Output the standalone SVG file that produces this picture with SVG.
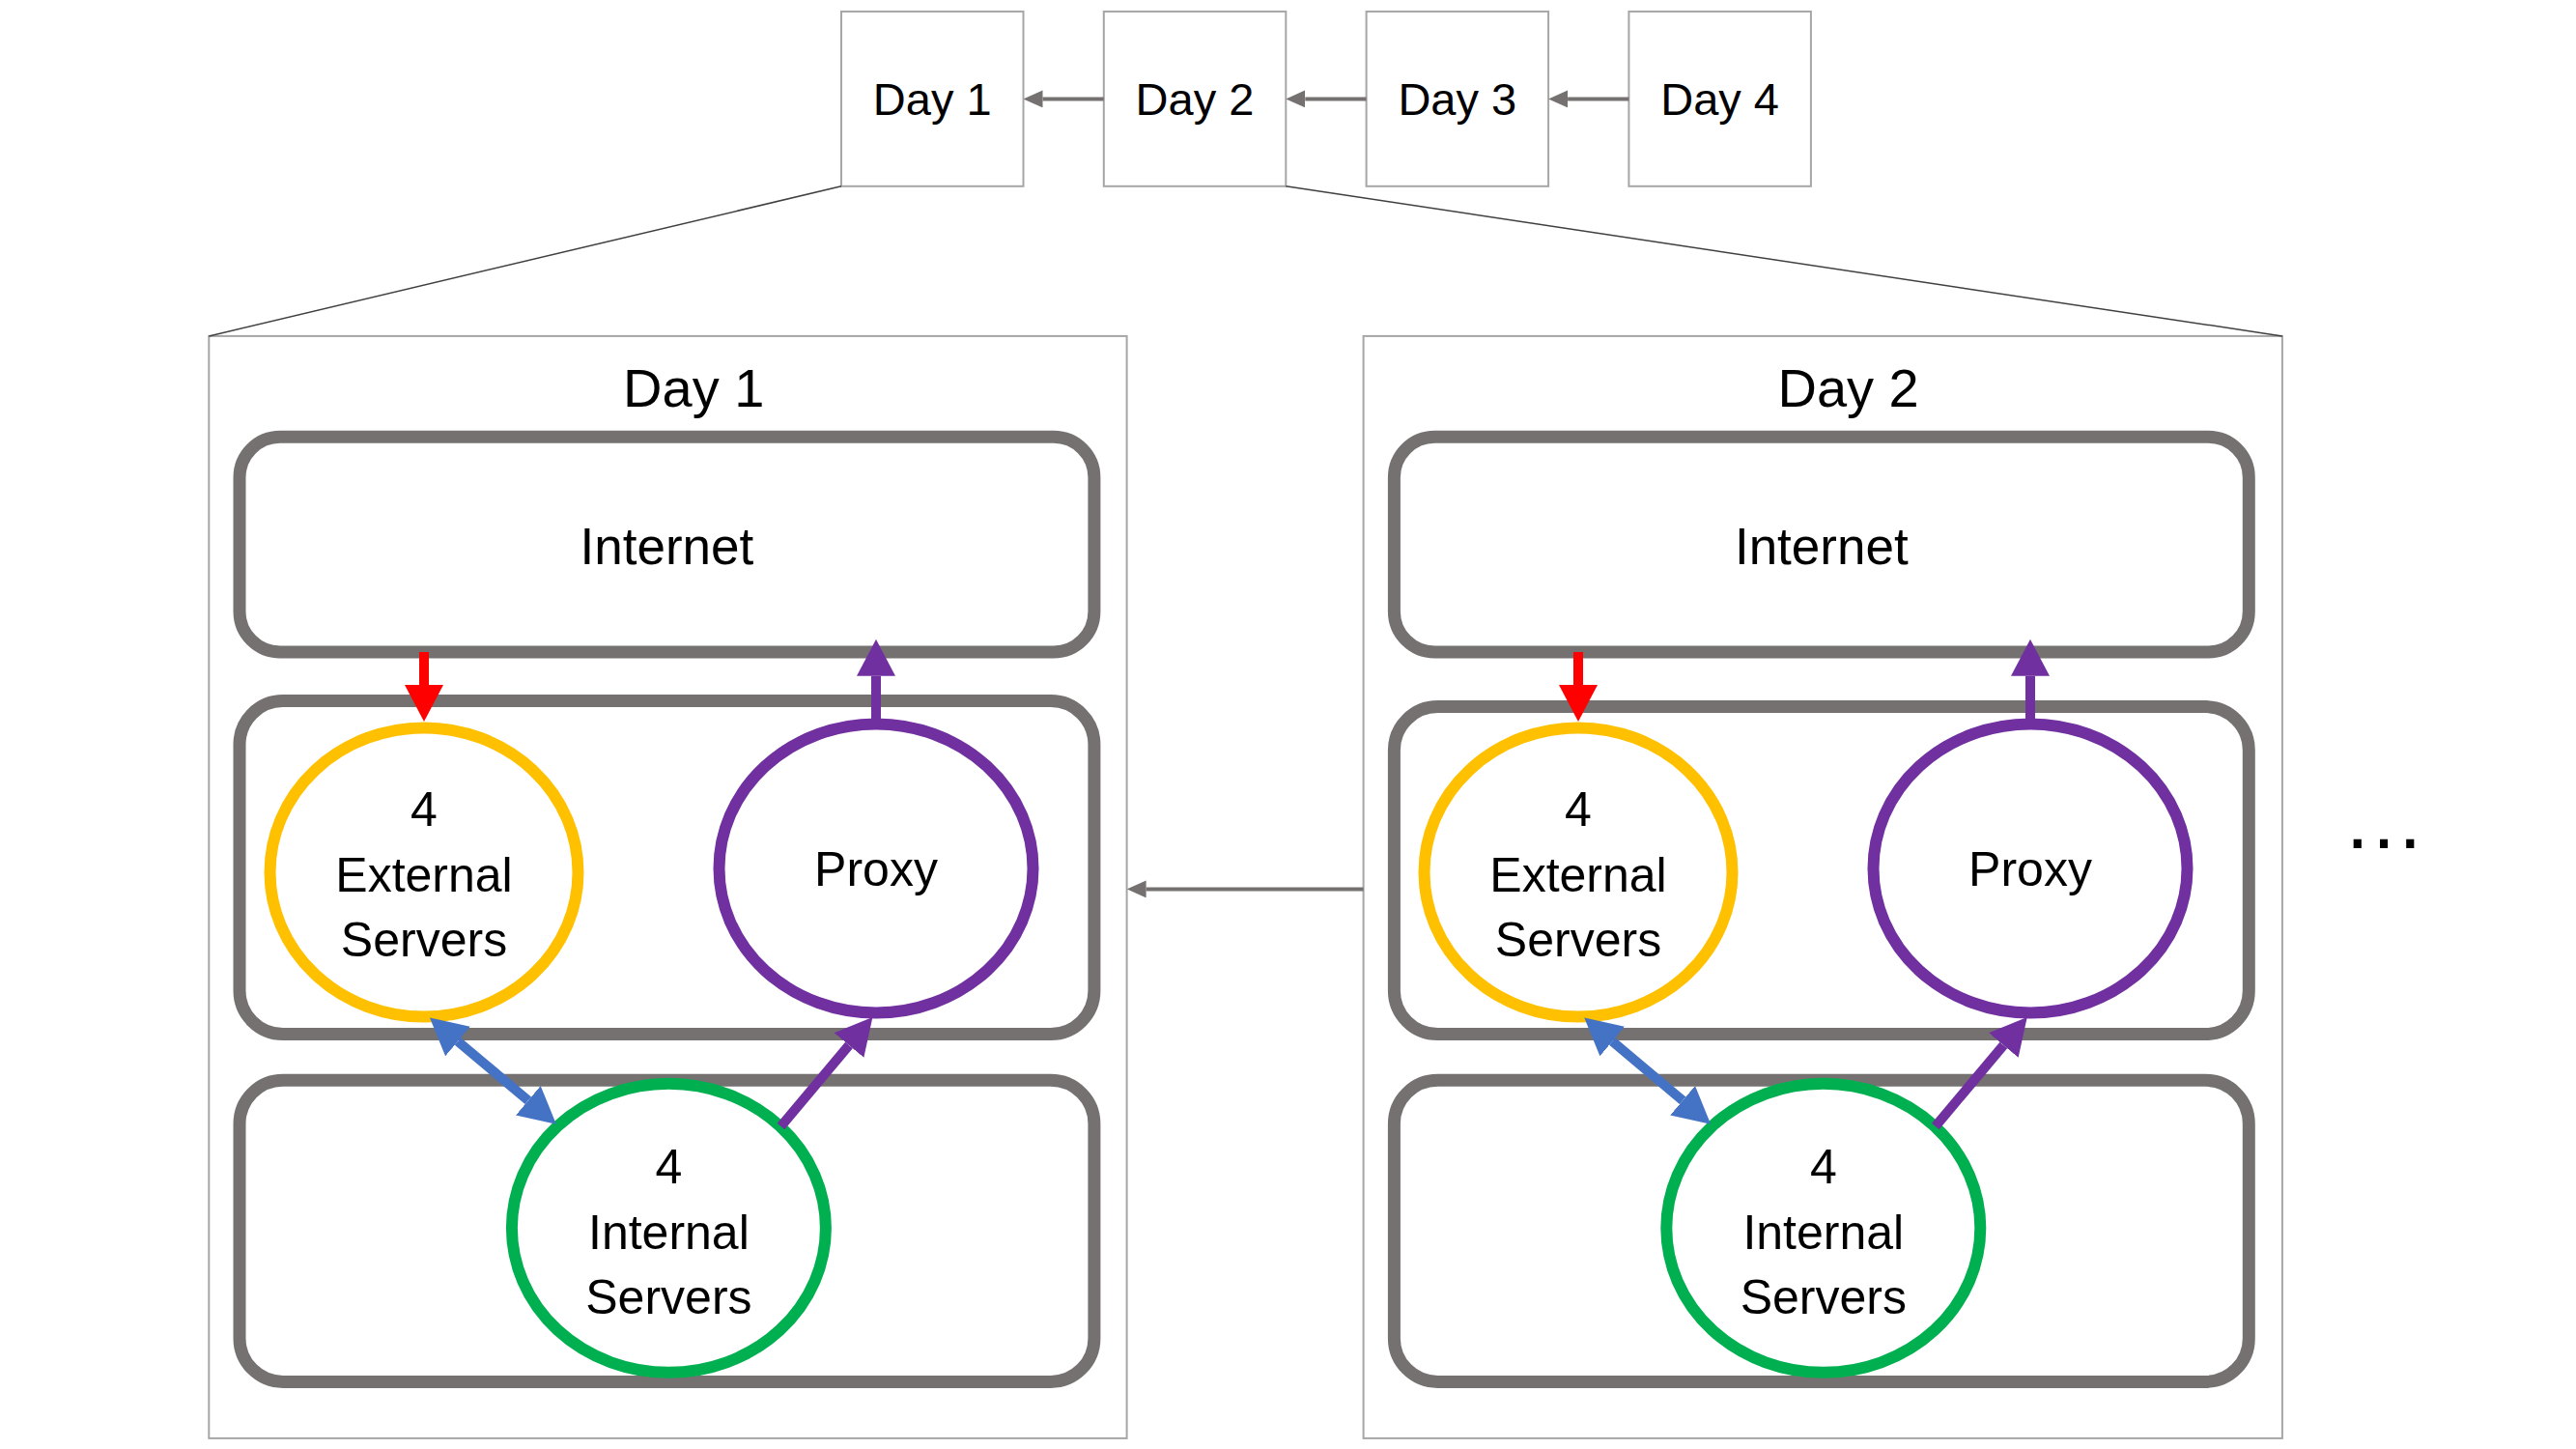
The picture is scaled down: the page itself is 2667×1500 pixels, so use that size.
<svg xmlns="http://www.w3.org/2000/svg" width="2667" height="1500" viewBox="0 0 2667 1500">
<defs>
<style>
text{font-family:"Liberation Sans",Arial,sans-serif;fill:#000;text-anchor:middle}
.t{font-size:50px}
.net{font-size:53px}
.dayt{font-size:47px}
.title{font-size:56px}
.thin{fill:#fff;stroke:#a6a6a6;stroke-width:2}
.zone{fill:#fff;stroke:#767171;stroke-width:13}
.ext{fill:#fff;stroke:#FFC000;stroke-width:12}
.prx{fill:#fff;stroke:#7030A0;stroke-width:12}
.int{fill:#fff;stroke:#00B050;stroke-width:12}
.gl{stroke:#767171;stroke-width:4;fill:none}
.trap{stroke:#404040;stroke-width:1.5;fill:none}
</style>
<marker id="ag" markerUnits="userSpaceOnUse" markerWidth="20" markerHeight="18" viewBox="0 0 20 18" refX="0" refY="9" orient="auto-start-reverse"><path d="M0,0 L20,9 L0,18 z" fill="#767171"/></marker>
<marker id="ab" markerUnits="userSpaceOnUse" markerWidth="38" markerHeight="40" viewBox="0 0 38 40" refX="0" refY="20" orient="auto-start-reverse"><path d="M0,0 L38,20 L0,40 z" fill="#4472C4"/></marker>
<marker id="ap" markerUnits="userSpaceOnUse" markerWidth="38" markerHeight="40" viewBox="0 0 38 40" refX="0" refY="20" orient="auto-start-reverse"><path d="M0,0 L38,20 L0,40 z" fill="#7030A0"/></marker>
<marker id="ar" markerUnits="userSpaceOnUse" markerWidth="38" markerHeight="40" viewBox="0 0 38 40" refX="0" refY="20" orient="auto-start-reverse"><path d="M0,0 L38,20 L0,40 z" fill="#FF0000"/></marker>
</defs>
<rect width="2667" height="1500" fill="#fff"/>

<g id="panel-day1">
<rect class="thin" x="216.3" y="347.9" width="950.3" height="1141"/>
<text class="title" x="718.2" y="420.5">Day 1</text>
</g>
<g id="panel-day2">
<rect class="thin" x="1411.6" y="347.9" width="951.3" height="1141"/>
<text class="title" x="1913.6" y="420.5">Day 2</text>
</g>

<g id="top-day1"><rect class="thin" x="871" y="11.9" width="188.5" height="180.9"/><text class="dayt" x="965.2" y="119.3">Day 1</text></g>
<g id="top-day2"><rect class="thin" x="1142.8" y="11.9" width="188.5" height="180.9"/><text class="dayt" x="1237" y="119.3">Day 2</text></g>
<g id="top-day3"><rect class="thin" x="1414.6" y="11.9" width="188.5" height="180.9"/><text class="dayt" x="1508.8" y="119.3">Day 3</text></g>
<g id="top-day4"><rect class="thin" x="1686.4" y="11.9" width="188.5" height="180.9"/><text class="dayt" x="1780.6" y="119.3">Day 4</text></g>

<g id="d1-internet"><rect class="zone" x="248" y="452.3" width="884.9" height="222.7" rx="42"/><text class="net" x="690.4" y="583.5">Internet</text></g>
<g id="d1-dmz"><rect class="zone" x="248" y="725.6" width="884.9" height="344.9" rx="45"/></g>
<g id="d1-lan"><rect class="zone" x="248" y="1118.3" width="884.9" height="312.1" rx="45"/></g>
<g id="d1-external"><ellipse class="ext" cx="439" cy="903" rx="159.5" ry="149.5"/><text class="t" x="439" y="854.8">4</text><text class="t" x="439" y="923.4">External</text><text class="t" x="439" y="990">Servers</text></g>
<g id="d1-proxy"><ellipse class="prx" cx="907" cy="899" rx="162.5" ry="149.5"/><text class="t" x="907" y="916.5">Proxy</text></g>
<g id="d1-internal"><ellipse class="int" cx="692.4" cy="1271.3" rx="162.5" ry="149.5"/><text class="t" x="692.4" y="1224.6">4</text><text class="t" x="692.4" y="1293.2">Internal</text><text class="t" x="692.4" y="1359.8">Servers</text></g>

<g id="d2-internet"><rect class="zone" x="1443.4" y="452.3" width="884.9" height="222.7" rx="42"/><text class="net" x="1885.8" y="583.5">Internet</text></g>
<g id="d2-dmz"><rect class="zone" x="1443.4" y="731.6" width="884.9" height="339" rx="45"/></g>
<g id="d2-lan"><rect class="zone" x="1443.4" y="1118.3" width="884.9" height="312.1" rx="45"/></g>
<g id="d2-external"><ellipse class="ext" cx="1634" cy="903" rx="159.5" ry="149.5"/><text class="t" x="1634" y="854.8">4</text><text class="t" x="1634" y="923.4">External</text><text class="t" x="1634" y="990">Servers</text></g>
<g id="d2-proxy"><ellipse class="prx" cx="2102" cy="899" rx="162.5" ry="149.5"/><text class="t" x="2102" y="916.5">Proxy</text></g>
<g id="d2-internal"><ellipse class="int" cx="1887.8" cy="1271.3" rx="162.5" ry="149.5"/><text class="t" x="1887.8" y="1224.6">4</text><text class="t" x="1887.8" y="1293.2">Internal</text><text class="t" x="1887.8" y="1359.8">Servers</text></g>

<g id="more"><text x="2468" y="878" style="font-size:86px">…</text></g>

<g id="connectors">
<line class="trap" x1="871" y1="192.8" x2="216.3" y2="347.9"/>
<line class="trap" x1="1331.3" y1="192.8" x2="2362.9" y2="347.9"/>
<line class="gl" x1="1142.8" y1="102.4" x2="1079.5" y2="102.4" marker-end="url(#ag)"/>
<line class="gl" x1="1414.6" y1="102.4" x2="1351.3" y2="102.4" marker-end="url(#ag)"/>
<line class="gl" x1="1686.4" y1="102.4" x2="1623.1" y2="102.4" marker-end="url(#ag)"/>
<line class="gl" x1="1411.6" y1="920.4" x2="1186.6" y2="920.4" marker-end="url(#ag)"/>

<line x1="439" y1="675" x2="439" y2="709" stroke="#FF0000" stroke-width="10" marker-end="url(#ar)"/>
<line x1="907" y1="745" x2="907" y2="699.8" stroke="#7030A0" stroke-width="10" marker-end="url(#ap)"/>
<line x1="474" y1="1078" x2="546.8" y2="1139.3" stroke="#4472C4" stroke-width="10" marker-start="url(#ab)" marker-end="url(#ab)"/>
<line x1="808.5" y1="1166" x2="879" y2="1082" stroke="#7030A0" stroke-width="10" marker-end="url(#ap)"/>

<line x1="1634" y1="675" x2="1634" y2="709" stroke="#FF0000" stroke-width="10" marker-end="url(#ar)"/>
<line x1="2102" y1="745" x2="2102" y2="699.8" stroke="#7030A0" stroke-width="10" marker-end="url(#ap)"/>
<line x1="1669.3" y1="1078" x2="1742.1" y2="1139.3" stroke="#4472C4" stroke-width="10" marker-start="url(#ab)" marker-end="url(#ab)"/>
<line x1="2003.8" y1="1166" x2="2074.3" y2="1082" stroke="#7030A0" stroke-width="10" marker-end="url(#ap)"/>
</g>
</svg>
